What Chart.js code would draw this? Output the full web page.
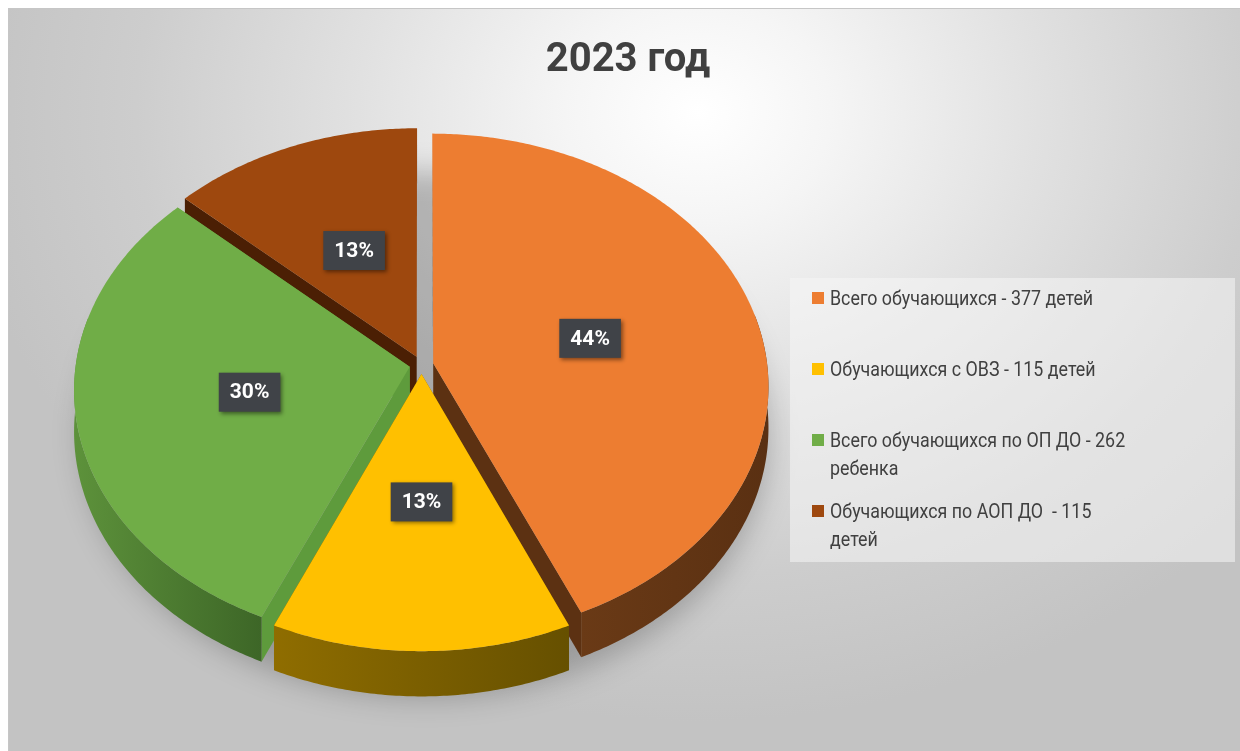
<!DOCTYPE html>
<html lang="ru">
<head>
<meta charset="utf-8">
<title>2023 год</title>
<script src="https://cdn.jsdelivr.net/npm/chart.js@4.4.1/dist/chart.umd.min.js"></script>
<style>
    html, body { margin: 0; padding: 0; background: #fff; }
    body { width: 1240px; height: 751px; overflow: hidden; position: relative; font-family: Roboto, "Noto Sans", sans-serif; }
    .frame {
        position: absolute; left: 8px; top: 8px; width: 1232px; height: 743px;
        background: radial-gradient(ellipse 60% 82% at 56% 14%, #ffffff 0%, #f5f5f5 18%, #e1e1e1 46%, #cdcdcd 76%, #c3c3c3 100%);
        box-shadow: inset 1px 1px 0 #c6c6c6;
    }
    .frame canvas { position: absolute; left: 0; top: 0; }
    .title {
        position: absolute; left: 428px; top: 34px; width: 400px; text-align: center;
        font: bold 40px/48px Roboto, "Noto Sans", sans-serif; color: #404040;
    }
    .legend {
        position: absolute; left: 790px; top: 278px; width: 445px; height: 284px;
        background: rgba(246, 246, 246, 0.55); box-sizing: border-box; padding-top: 6px;
    }
    .legend .item { position: relative; height: 71px; padding-left: 40px; font-size: 20.5px; line-height: 28px; color: #404040; }
    .legend .item span { display: inline-block; transform: scaleX(0.87); transform-origin: 0 0; white-space: pre; }
    .legend .item i { position: absolute; left: 22px; top: 8px; width: 12px; height: 12px; }
</style>
</head>
<body>
<div class="frame"><canvas id="pie"></canvas></div>
<div class="title" id="title"></div>
<div class="legend" id="legend"></div>
<script>
// подписи секторов (строки легенды)
const categories = [
    ['Всего обучающихся - 377 детей'],
    ['Обучающихся с ОВЗ - 115 детей'],
    ['Всего обучающихся по ОП ДО - 262', 'ребенка'],
    ['Обучающихся по АОП ДО  - 115', 'детей']
];
// количество детей
const counts = [377, 115, 262, 115];
// подписи долей, как на диаграмме
const percentLabels = ['44%', '13%', '30%', '13%'];
const chartTitle = '2023 год';

// цвета: верх, боковая стенка (светлая/тёмная), срез
const topColors = ['#ED7D31', '#FFC000', '#70AD47', '#9E480E'];
const wallColors = [['#6a3a16', '#5a3012'], ['#8f6d00', '#665000'], ['#5d923b', '#3d6627'], ['#4a2205', '#3a1a03']];
const cutColors = ['#5c3112', '#7a5d00', '#5e9b3c', '#4b1f04'];

// перспективная проекция точки плоскости диаграммы (u вправо, v к зрителю, z вниз)
function project(arc, o, u, v, z) {
    const w = 1 - o.persp * v / arc.outerRadius;
    return [arc.x + u / w, arc.y + (o.tilt * v + z) / w];
}

function sliceBase(arc) {
    const m = (arc.startAngle + arc.endAngle) / 2;
    const off = arc.options.offset || 0;
    return { m: m, ou: Math.cos(m) * off, ov: Math.sin(m) * off, R: arc.outerRadius };
}

function rimPoints(arc, o, b, a0, a1, z) {
    const n = Math.max(2, Math.ceil(Math.abs(a1 - a0) / 0.01));
    const pts = [];
    for (let k = 0; k <= n; k++) {
        const a = a0 + (a1 - a0) * k / n;
        pts.push(project(arc, o, b.ou + b.R * Math.cos(a), b.ov + b.R * Math.sin(a), z));
    }
    return pts;
}

function fillPoly(ctx, pts) {
    ctx.beginPath();
    pts.forEach((p, k) => k ? ctx.lineTo(p[0], p[1]) : ctx.moveTo(p[0], p[1]));
    ctx.closePath();
    ctx.fill();
}

// рисуем один сектор: срезы, стенка, верх
function drawSlice(ctx, arc, i, o) {
    const b = sliceBase(arc);
    const s = arc.startAngle, e = arc.endAngle;
    const c0 = project(arc, o, b.ou, b.ov, 0), c1 = project(arc, o, b.ou, b.ov, o.depth);

    ctx.fillStyle = cutColors[i];
    [s, e].forEach(a => {
        const u = b.ou + b.R * Math.cos(a), v = b.ov + b.R * Math.sin(a);
        fillPoly(ctx, [c0, project(arc, o, u, v, 0), project(arc, o, u, v, o.depth), c1]);
    });

    // видна передняя половина обода (с небольшим запасом)
    const ws = Math.max(s, -0.2), we = Math.min(e, Math.PI + 0.2);
    if (we > ws) {
        const top = rimPoints(arc, o, b, ws, we, 0);
        const bottom = rimPoints(arc, o, b, we, ws, o.depth);
        const xs = top.map(p => p[0]);
        const grad = ctx.createLinearGradient(Math.min(...xs), 0, Math.max(...xs), 0);
        grad.addColorStop(0, wallColors[i][0]);
        grad.addColorStop(1, wallColors[i][1]);
        ctx.fillStyle = grad;
        fillPoly(ctx, top.concat(bottom));
    }

    ctx.fillStyle = arc.options.backgroundColor;
    fillPoly(ctx, [c0].concat(rimPoints(arc, o, b, s, e, 0)));
}

const pie3d = {
    id: 'pie3d',
    beforeDatasetsDraw(chart, args, o) {
        const ctx = chart.ctx;
        const arcs = chart.getDatasetMeta(0).data;
        if (!arcs.length) return false;

        // мягкая тень под диаграммой
        const a = arcs[0];
        const ring = rimPoints(a, o, { ou: 4, ov: 6, R: a.outerRadius + 8 }, 0, Math.PI * 2, o.depth);
        ctx.save();
        ctx.filter = 'blur(14px)';
        ctx.fillStyle = 'rgba(0, 0, 0, 0.22)';
        fillPoly(ctx, ring);
        ctx.restore();

        // от дальних секторов к ближним
        const order = arcs.map((_, i) => i)
            .sort((i, j) => Math.sin(sliceBase(arcs[i]).m) - Math.sin(sliceBase(arcs[j]).m));
        ctx.save();
        order.forEach(i => drawSlice(ctx, arcs[i], i, o));
        ctx.restore();
        return false;
    },
    afterDraw(chart) {
        const o = chart.options.plugins.pie3d;
        const ctx = chart.ctx;
        const arcs = chart.getDatasetMeta(0).data;
        ctx.save();
        ctx.font = 'bold 21px Roboto, "Noto Sans", sans-serif';
        ctx.textAlign = 'center';
        ctx.textBaseline = 'middle';
        arcs.forEach((arc, i) => {
            const b = sliceBase(arc);
            const r = b.R * o.labelAt;
            const p = project(arc, o, b.ou + Math.cos(b.m) * r, b.ov + Math.sin(b.m) * r, 0);
            const text = percentLabels[i];
            const w = ctx.measureText(text).width + 22, h = 39;
            ctx.shadowColor = 'rgba(0, 0, 0, 0.45)';
            ctx.shadowBlur = 4;
            ctx.shadowOffsetX = 2;
            ctx.shadowOffsetY = 2;
            ctx.fillStyle = '#404348';
            ctx.fillRect(p[0] - w / 2, p[1] - h / 2, w, h);
            ctx.shadowColor = 'transparent';
            ctx.fillStyle = '#ffffff';
            ctx.fillText(text, p[0], p[1] + 1);
        });
        ctx.restore();
    }
};

const chart = new Chart(document.getElementById('pie'), {
    type: 'pie',
    data: {
        labels: categories,
        datasets: [{
            data: counts,
            backgroundColor: topColors,
            borderWidth: 0,
            offset: 12
        }]
    },
    options: {
        responsive: true,
        maintainAspectRatio: false,
        animation: false,
        events: [],
        radius: 334,
        layout: { padding: { left: 20, right: 425, top: 0, bottom: 29 } },
        plugins: {
            legend: { display: false },
            tooltip: { enabled: false },
            pie3d: { tilt: 0.75, persp: 0.09, depth: 41, labelAt: 0.485 }
        }
    },
    plugins: [pie3d]
});

// заголовок и легенда
document.getElementById('title').textContent = chartTitle;
const legend = document.getElementById('legend');
chart.data.labels.forEach((lines, i) => {
    const item = document.createElement('div');
    item.className = 'item';
    const mark = document.createElement('i');
    mark.style.background = topColors[i];
    item.appendChild(mark);
    const span = document.createElement('span');
    lines.forEach((line, k) => {
        if (k) span.appendChild(document.createElement('br'));
        span.appendChild(document.createTextNode(line));
    });
    item.appendChild(span);
    legend.appendChild(item);
});
</script>
</body>
</html>
